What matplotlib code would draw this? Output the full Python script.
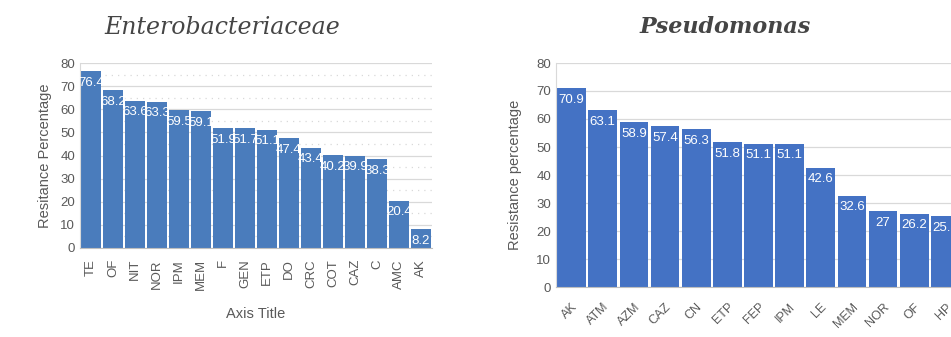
import numpy as np
import matplotlib.pyplot as plt
from matplotlib.ticker import MultipleLocator

# Enterobacteriaceae
ent_drugs = ["TE", "OF", "NIT", "NOR", "IPM", "MEM", "F", "GEN", "ETP", "DO",
             "CRC", "COT", "CAZ", "C", "AMC", "AK"]
ent_vals = [76.4, 68.2, 63.6, 63.3, 59.5, 59.1, 51.9, 51.7, 51.1, 47.4,
            43.4, 40.2, 39.9, 38.3, 20.4, 8.2]

# Pseudomonas
ps_drugs = ["AK", "ATM", "AZM", "CAZ", "CN", "ETP", "FEP", "IPM", "LE", "MEM",
            "NOR", "OF", "HP"]
ps_vals = [70.9, 63.1, 58.9, 57.4, 56.3, 51.8, 51.1, 51.1, 42.6, 32.6,
           27, 26.2, 25.3]

plt.rcParams['font.family'] = ['Liberation Sans', 'DejaVu Sans']
tick_col = "#595959"

fig = plt.figure(figsize=(9.51, 3.37), dpi=100)

def style_axes(ax, minor):
    ax.set_ylim(0, 80)
    ax.yaxis.set_major_locator(MultipleLocator(10))
    ax.grid(axis="y", which="major", color="#d9d9d9", lw=0.9)
    if minor:
        ax.yaxis.set_minor_locator(MultipleLocator(5))
        ax.grid(axis="y", which="minor", color="#d9d9d9", lw=0.9, ls=(0, (1, 4)))
    ax.set_axisbelow(True)
    for s in ["top", "right"]:
        ax.spines[s].set_visible(False)
    ax.spines["left"].set_color("#d9d9d9")
    ax.spines["bottom"].set_color("#bfbfbf")
    ax.tick_params(which="both", length=0, colors=tick_col, labelsize=9.5)

def add_labels(ax, bars, vals):
    for b, v in zip(bars, vals):
        ax.annotate(f"{v:g}", (b.get_x() + b.get_width() / 2, v),
                    xytext=(0, -4), textcoords="offset points",
                    ha="center", va="top", color="white", fontsize=9.5)

# left chart
ax1 = fig.add_axes([80 / 951, 89 / 337, 352 / 951, 185 / 337])
x1 = np.arange(len(ent_drugs))
bars1 = ax1.bar(x1, ent_vals, width=0.92, color="#4a7cbc")
ax1.set_xlim(-0.5, len(ent_drugs) - 0.5)
style_axes(ax1, True)
ax1.set_xticks(x1)
ax1.set_xticklabels(ent_drugs, rotation=90)
ax1.tick_params(axis="x", pad=8)
ax1.set_ylabel("Resitance Percentage", color=tick_col, fontsize=10.5, labelpad=6)
ax1.set_xlabel("Axis Title", color=tick_col, fontsize=10.5, labelpad=12)
add_labels(ax1, bars1, ent_vals)
fig.text(222 / 951, 1 - 27 / 337, "Enterobacteriaceae", ha="center", va="center",
         family="DejaVu Serif", style="italic", fontsize=17, color="#454545")

# right chart
ax2 = fig.add_axes([556 / 951, 50 / 337, 405 / 951, 224 / 337])
x2 = np.arange(len(ps_drugs))
bars2 = ax2.bar(x2, ps_vals, width=0.92, color="#4472c4")
ax2.set_xlim(-0.5, len(ps_drugs) - 0.5)
style_axes(ax2, False)
ax2.set_xticks(x2)
ax2.set_xticklabels(ps_drugs, rotation=45, ha="right", rotation_mode="anchor",
                    fontsize=9)
ax2.tick_params(axis="x", pad=10)
ax2.set_ylabel("Resistance percentage", color=tick_col, fontsize=10.5, labelpad=10)
add_labels(ax2, bars2, ps_vals)
fig.text(725 / 951, 1 - 27 / 337, "Pseudomonas", ha="center", va="center",
         family="DejaVu Serif", style="italic", weight="bold", fontsize=16,
         color="#454545")

fig.savefig("out.png", dpi=100)
